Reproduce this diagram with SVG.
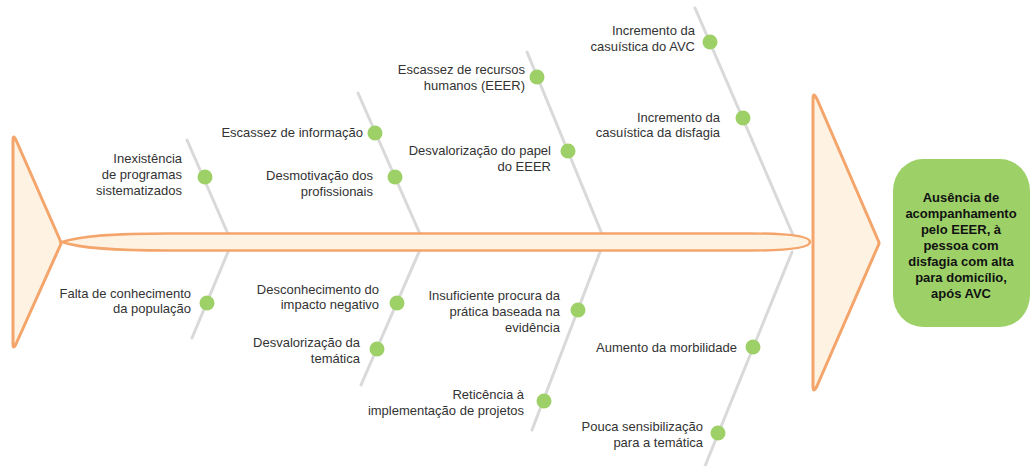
<svg xmlns="http://www.w3.org/2000/svg" width="1030" height="466" viewBox="0 0 1030 466">
<style>
.bone{stroke:#d9d9d9;stroke-width:3;fill:none;stroke-linecap:round}
.dot{fill:#9dd168}
.lbl{font-family:"Liberation Sans",Arial,sans-serif;font-size:13px;fill:#333;text-anchor:end}
.head{fill:#fef3e3;stroke:#f3a56c;stroke-width:3;stroke-linejoin:round}
.eff{font-family:"Liberation Sans",Arial,sans-serif;font-size:13px;font-weight:bold;fill:#111;text-anchor:middle}
</style>
<rect width="1030" height="466" fill="#fff"/>
<g id="connectors">
<line class="bone" x1="187" y1="140" x2="228" y2="234"/>
<line class="bone" x1="358" y1="93" x2="420" y2="234"/>
<line class="bone" x1="527" y1="52" x2="602" y2="234"/>
<line class="bone" x1="695" y1="8" x2="793" y2="235"/>
<line class="bone" x1="228" y1="252" x2="192" y2="338"/>
<line class="bone" x1="419" y1="252" x2="361" y2="385"/>
<line class="bone" x1="600" y1="252" x2="532" y2="430"/>
<line class="bone" x1="792" y1="252" x2="705" y2="466"/>
</g>
<g id="tail">
<path class="head" d="M13,140 Q13,134 16,140 L60,240 Q62,243 60,246 L16,344 Q13,350 13,344 Z"/>
</g>
<g id="spine">
<path d="M62,242 C80,236 110,233.5 170,233.5 L750,233.5 C795,233.5 810,237 810,242 C810,247 795,250.5 750,250.5 L170,250.5 C110,250.5 80,248 62,242 Z" fill="#fef3e3" stroke="#f3a56c" stroke-width="2.5"/>
</g>
<g id="head">
<path class="head" d="M813,99 Q813,91 817,99 L878,240 Q880,243 878,246 L817,386 Q813,394 813,386 Z"/>
</g>
<g id="effect">
<rect x="893" y="159" width="137" height="168" rx="30" ry="32" fill="#9dd168"/>
<text class="eff" x="961" y="202">Ausência de</text>
<text class="eff" x="961" y="218">acompanhamento</text>
<text class="eff" x="961" y="234">pelo EEER, à</text>
<text class="eff" x="961" y="250">pessoa com</text>
<text class="eff" x="961" y="266">disfagia com alta</text>
<text class="eff" x="961" y="282">para domicílio,</text>
<text class="eff" x="961" y="298">após AVC</text>
</g>
<g id="cause-u1">
<circle class="dot" cx="205" cy="177" r="7.5"/>
<text class="lbl" x="182" y="163">Inexistência</text>
<text class="lbl" x="182" y="179">de programas</text>
<text class="lbl" x="182" y="195">sistematizados</text>
</g>
<g id="cause-u2a">
<circle class="dot" cx="375" cy="133" r="7.5"/>
<text class="lbl" x="363" y="137">Escassez de informação</text>
</g>
<g id="cause-u2b">
<circle class="dot" cx="395" cy="177" r="7.5"/>
<text class="lbl" x="373" y="180">Desmotivação dos</text>
<text class="lbl" x="373" y="196">profissionais</text>
</g>
<g id="cause-u3a">
<circle class="dot" cx="537" cy="77" r="7.5"/>
<text class="lbl" x="525" y="74">Escassez de recursos</text>
<text class="lbl" x="525" y="90">humanos (EEER)</text>
</g>
<g id="cause-u3b">
<circle class="dot" cx="568" cy="151" r="7.5"/>
<text class="lbl" x="551" y="155">Desvalorização do papel</text>
<text class="lbl" x="551" y="171">do EEER</text>
</g>
<g id="cause-u4a">
<circle class="dot" cx="710" cy="42" r="7.5"/>
<text class="lbl" x="695" y="35">Incremento da</text>
<text class="lbl" x="695" y="51">casuística do AVC</text>
</g>
<g id="cause-u4b">
<circle class="dot" cx="743" cy="118" r="7.5"/>
<text class="lbl" x="720" y="122">Incremento da</text>
<text class="lbl" x="720" y="137">casuística da disfagia</text>
</g>
<g id="cause-l1">
<circle class="dot" cx="207" cy="303" r="7.5"/>
<text class="lbl" x="191" y="298">Falta de conhecimento</text>
<text class="lbl" x="191" y="313">da população</text>
</g>
<g id="cause-l2a">
<circle class="dot" cx="397" cy="303" r="7.5"/>
<text class="lbl" x="379" y="294">Desconhecimento do</text>
<text class="lbl" x="379" y="309">impacto negativo</text>
</g>
<g id="cause-l2b">
<circle class="dot" cx="377" cy="349" r="7.5"/>
<text class="lbl" x="360" y="347">Desvalorização da</text>
<text class="lbl" x="360" y="363">temática</text>
</g>
<g id="cause-l3a">
<circle class="dot" cx="578" cy="310" r="7.5"/>
<text class="lbl" x="560" y="300">Insuficiente procura da</text>
<text class="lbl" x="560" y="316">prática baseada na</text>
<text class="lbl" x="560" y="332">evidência</text>
</g>
<g id="cause-l3b">
<circle class="dot" cx="544" cy="401" r="7.5"/>
<text class="lbl" x="524" y="399">Reticência à</text>
<text class="lbl" x="524" y="415">implementação de projetos</text>
</g>
<g id="cause-l4a">
<circle class="dot" cx="753" cy="347" r="7.5"/>
<text class="lbl" x="737" y="352">Aumento da morbilidade</text>
</g>
<g id="cause-l4b">
<circle class="dot" cx="718" cy="433" r="7.5"/>
<text class="lbl" x="703" y="431">Pouca sensibilização</text>
<text class="lbl" x="703" y="447">para a temática</text>
</g>
</svg>
